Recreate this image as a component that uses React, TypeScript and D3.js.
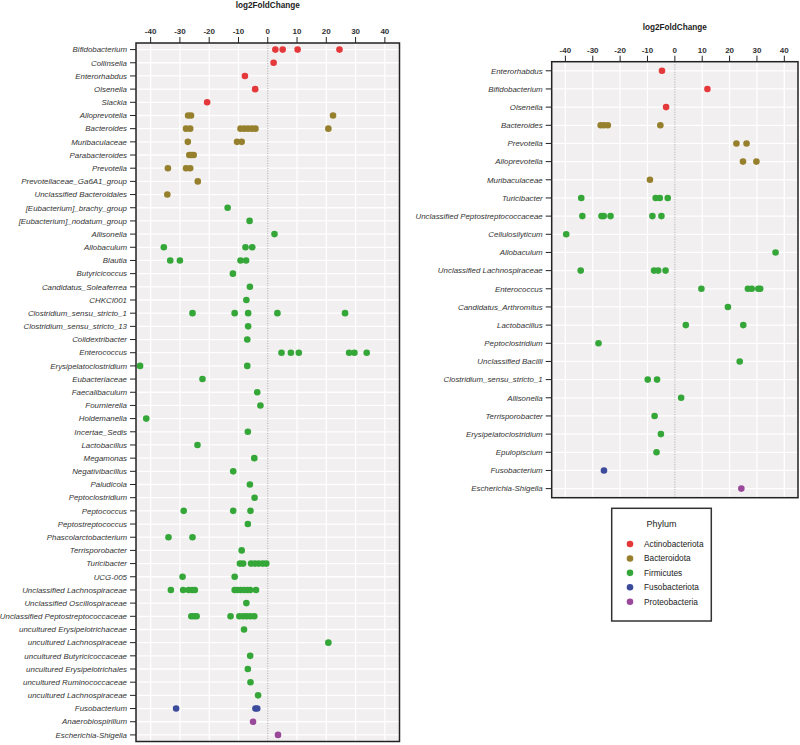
import React from "react";
import * as d3 from "d3";

const phyla = ["Actinobacteriota", "Bacteroidota", "Firmicutes", "Fusobacteriota", "Proteobacteria"];
const phylumColors = ["#E5383B", "#96802D", "#35A739", "#3C4B9C", "#9A489A"];
const xTicks = [-40, -30, -20, -10, 0, 10, 20, 30, 40];
const axisTitle = "log2FoldChange";
const legendTitle = "Phylum";

// Left panel
const leftGenera = [
  "Bifidobacterium", "Collinsella", "Enterorhabdus", "Olsenella", "Slackia",
  "Alloprevotella", "Bacteroides", "Muribaculaceae", "Parabacteroides", "Prevotella",
  "Prevotellaceae_Ga6A1_group", "Unclassified Bacteroidales", "[Eubacterium]_brachy_group",
  "[Eubacterium]_nodatum_group", "Allisonella", "Allobaculum", "Blautia", "Butyricicoccus",
  "Candidatus_Soleaferrea", "CHKCI001", "Clostridium_sensu_stricto_1", "Clostridium_sensu_stricto_13",
  "Colidextribacter", "Enterococcus", "Erysipelatoclostridium", "Eubacteriaceae", "Faecalibaculum",
  "Fournierella", "Holdemanella", "Incertae_Sedis", "Lactobacillus", "Megamonas", "Negativibacillus",
  "Paludicola", "Peptoclostridium", "Peptococcus", "Peptostreptococcus", "Phascolarctobacterium",
  "Terrisporobacter", "Turicibacter", "UCG-005", "Unclassified Lachnospiraceae",
  "Unclassified Oscillospiraceae", "Unclassified Peptostreptococcaceae", "uncultured Erysipelotrichaceae",
  "uncultured Lachnospiraceae", "uncultured Butyricicoccaceae", "uncultured Erysipelotrichales",
  "uncultured Ruminococcaceae", "uncultured Lachnospiraceae", "Fusobacterium", "Anaerobiospirillum",
  "Escherichia-Shigella",
];
const leftPhylum = [
  0, 0, 0, 0, 0,
  1, 1, 1, 1, 1, 1, 1,
  2, 2, 2, 2, 2, 2, 2, 2, 2, 2, 2, 2, 2, 2, 2, 2, 2, 2, 2, 2, 2, 2, 2, 2, 2, 2, 2, 2, 2, 2, 2, 2, 2, 2, 2, 2, 2, 2,
  3, 4, 4,
];
const leftLFC = [
  [2.6, 5.1, 10.2, 24.5],
  [2.0],
  [-7.8],
  [-4.3],
  [-20.7],
  [-27.2, -26.2, 22.3],
  [-27.9, -26.5, -9.3, -8.0, -6.7, -5.4, -4.2, 20.7],
  [-27.3, -10.5, -8.9],
  [-26.8, -26.0, -25.3],
  [-34.1, -27.9, -26.5],
  [-23.9],
  [-34.3],
  [-13.7],
  [-6.2],
  [2.3],
  [-35.5, -7.6, -5.3],
  [-33.3, -30.0, -9.3, -7.4],
  [-11.9],
  [-6.1],
  [-7.3],
  [-25.7, -11.3, -6.7, 3.3, 26.4],
  [-6.7],
  [-7.0],
  [4.7, 7.9, 10.6, 27.8, 29.6, 33.8],
  [-43.6, -7.0],
  [-22.3],
  [-3.6],
  [-2.5],
  [-41.5],
  [-6.8],
  [-24.0],
  [-4.6],
  [-11.8],
  [-6.1],
  [-4.5],
  [-28.7, -11.8, -5.9],
  [-6.8],
  [-33.9, -25.7],
  [-8.9],
  [-9.5, -8.4, -5.7, -4.4, -3.1, -1.7, -0.5],
  [-29.1, -11.3],
  [-33.1, -28.9, -27.0, -25.8, -24.9, -11.3, -10.3, -9.2, -8.0, -6.9, -6.0, -4.0],
  [-7.3],
  [-26.1, -25.2, -24.3, -12.7, -9.7, -8.4, -7.2, -5.9, -4.6],
  [-8.1],
  [20.7],
  [-6.0],
  [-6.8],
  [-5.9],
  [-3.3],
  [-31.3, -4.2, -3.6],
  [-5.0],
  [3.5],
];

// Right panel
const rightGenera = [
  "Enterorhabdus", "Bifidobacterium", "Olsenella", "Bacteroides", "Prevotella", "Alloprevotella",
  "Muribaculaceae", "Turicibacter", "Unclassified Peptostreptococcaceae", "Cellulosilyticum",
  "Allobaculum", "Unclassified Lachnospiraceae", "Enterococcus", "Candidatus_Arthromitus",
  "Lactobacillus", "Peptoclostridium", "Unclassified Bacilli", "Clostridium_sensu_stricto_1",
  "Allisonella", "Terrisporobacter", "Erysipelatoclostridium", "Epulopiscium", "Fusobacterium",
  "Escherichia-Shigella",
];
const rightPhylum = [0, 0, 0, 1, 1, 1, 1, 2, 2, 2, 2, 2, 2, 2, 2, 2, 2, 2, 2, 2, 2, 2, 3, 4];
const rightLFC = [
  [-4.7],
  [11.9],
  [-3.2],
  [-27.1, -25.9, -24.5, -5.3],
  [22.5, 26.2],
  [24.9, 29.8],
  [-9.1],
  [-34.2, -7.0, -5.5, -2.6],
  [-33.8, -26.8, -26.0, -23.5, -8.2, -4.9],
  [-39.7],
  [36.8],
  [-34.4, -7.6, -6.1, -3.4],
  [9.7, 26.7, 28.1, 30.5, 31.2],
  [19.4],
  [4.0, 25.0],
  [-27.9],
  [23.7],
  [-9.9, -6.5],
  [2.3],
  [-7.4],
  [-5.1],
  [-6.7],
  [-25.9],
  [24.3],
];

const FONT = "'Liberation Sans', Arial, Helvetica, sans-serif";

type PanelProps = {
  genera: string[];
  phylum: number[];
  values: number[][];
  x0: number;
  x1: number;
  top: number;
  bottom: number;
  titleY: number;
};

function Panel({ genera, phylum, values, x0, x1, top, bottom, titleY }: PanelProps) {
  const x = d3.scaleLinear().domain([-45, 45]).range([x0, x1]);
  const idx = genera.map((_, i) => String(i));
  const y = d3.scaleBand<string>().domain(idx).range([top, bottom]).padding(0);
  const bw = y.bandwidth();
  return (
    <g>
      <text x={x(0)} y={titleY} textAnchor="middle" fontFamily={FONT} fontWeight="bold" fontSize={8.2} fill="#222">
        {axisTitle}
      </text>
      <rect x={x0} y={top} width={x1 - x0} height={bottom - top} fill="#F1EFEF" />
      {xTicks.map((t) => (
        t !== 0 ? <line key={"gv" + t} x1={x(t)} x2={x(t)} y1={top} y2={bottom} stroke="#fff" strokeWidth={1.3} /> : null
      ))}
      {idx.map((k) => (
        <line key={"gh" + k} x1={x0} x2={x1} y1={(y(k) as number) + bw / 2} y2={(y(k) as number) + bw / 2} stroke="#fff" strokeWidth={1.3} />
      ))}
      <line x1={x(0)} x2={x(0)} y1={top} y2={bottom} stroke="#9a9a9a" strokeWidth={0.8} strokeDasharray="1,1.5" />
      {xTicks.map((t) => (
        <g key={"t" + t}>
          <line x1={x(t)} x2={x(t)} y1={top - 6} y2={top} stroke="#222" strokeWidth={1} />
          <text x={x(t)} y={top - 9} textAnchor="middle" fontFamily={FONT} fontWeight="bold" fontSize={8} fill="#333">
            {t}
          </text>
        </g>
      ))}
      {genera.map((g, i) => {
        const cy = (y(String(i)) as number) + bw / 2;
        return (
          <g key={"l" + i}>
            <line x1={x0 - 6} x2={x0} y1={cy} y2={cy} stroke="#222" strokeWidth={1} />
            <text x={x0 - 9} y={cy} dy="0.35em" textAnchor="end" fontFamily={FONT} fontStyle="italic" fontSize={7.9} fill="#333">
              {g}
            </text>
          </g>
        );
      })}
      {values.map((vals, i) =>
        vals.map((v, j) => (
          <circle
            key={"c" + i + "_" + j}
            cx={x(v)}
            cy={(y(String(i)) as number) + bw / 2}
            r={3.3}
            fill={phylumColors[phylum[i]]}
          />
        ))
      )}
      <rect x={x0} y={top} width={x1 - x0} height={bottom - top} fill="none" stroke="#222" strokeWidth={1.5} />
    </g>
  );
}

function Legend() {
  const lx = 611.7, ly = 508.3, lw = 99.6, lh = 112.7;
  const items = d3.scalePoint<string>().domain(phyla).range([544, 601.7]);
  return (
    <g>
      <rect x={lx} y={ly} width={lw} height={lh} fill="#fff" stroke="#333" strokeWidth={1.5} />
      <text x={lx + lw / 2} y={523.5} dy="0.35em" textAnchor="middle" fontFamily={FONT} fontSize={9} fill="#222">
        {legendTitle}
      </text>
      {phyla.map((p, i) => (
        <g key={p}>
          <circle cx={630} cy={items(p) as number} r={3.3} fill={phylumColors[i]} />
          <text x={644} y={items(p) as number} dy="0.35em" fontFamily={FONT} fontSize={8.3} fill="#222">
            {p}
          </text>
        </g>
      ))}
    </g>
  );
}

export default function App() {
  return (
    <svg width={800} height={745} style={{ position: "absolute", left: 0, top: 0, background: "#fff" }}>
      <Panel genera={leftGenera} phylum={leftPhylum} values={leftLFC} x0={136} x1={399.5} top={43} bottom={741.5} titleY={8} />
      <Panel genera={rightGenera} phylum={rightPhylum} values={rightLFC} x0={551.7} x1={798} top={61.7} bottom={497.7} titleY={29.5} />
      <Legend />
    </svg>
  );
}
